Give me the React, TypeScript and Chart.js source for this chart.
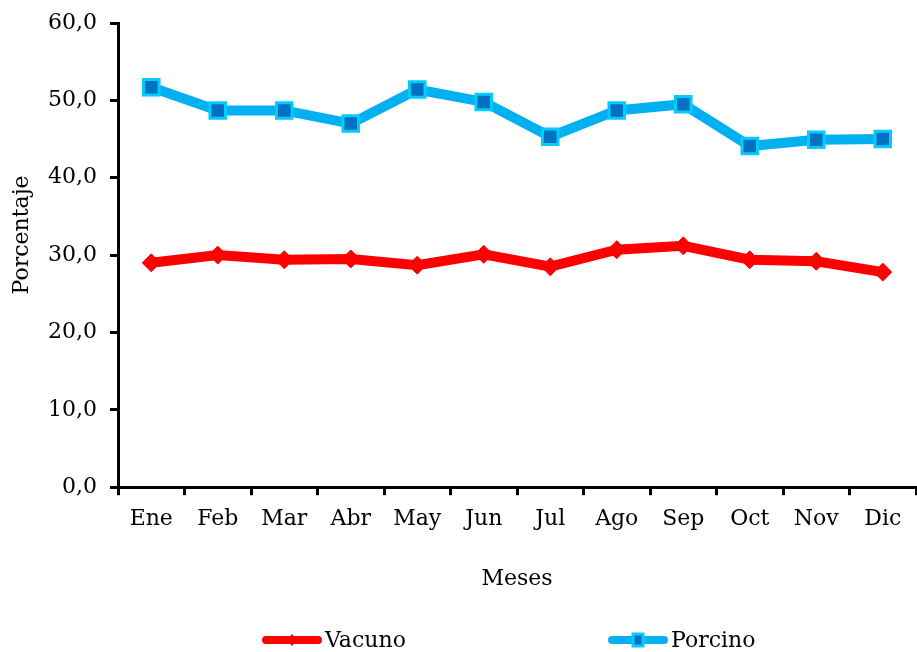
import React, { useEffect, useRef } from 'react';
import { Chart, registerables } from 'chart.js';

Chart.register(...registerables);

const MONTHS = ['Ene', 'Feb', 'Mar', 'Abr', 'May', 'Jun', 'Jul', 'Ago', 'Sep', 'Oct', 'Nov', 'Dic'];
const VACUNO = [29.0, 30.0, 29.4, 29.5, 28.7, 30.1, 28.5, 30.7, 31.2, 29.4, 29.2, 27.8];
const PORCINO = [51.7, 48.7, 48.7, 47.0, 51.4, 49.8, 45.3, 48.7, 49.5, 44.1, 44.9, 45.0];
const Y_TICK_LABELS = ['0,0', '10,0', '20,0', '30,0', '40,0', '50,0', '60,0'];
const SERIES_NAMES = ['Vacuno', 'Porcino'];
const X_TITLE = 'Meses';
const Y_TITLE = 'Porcentaje';

const FONT_FAMILY = '"DejaVu Serif", serif';
const FONT_SIZE = 22;
const LEGEND_X = [262, 608];
const LEGEND_Y = 640;

const yTitlePlugin = {
  id: 'yTitle',
  afterDraw(chart: any) {
    const ctx = chart.ctx;
    ctx.save();
    ctx.translate(22, 235);
    ctx.rotate(-Math.PI / 2);
    ctx.font = `${FONT_SIZE}px ${FONT_FAMILY}`;
    ctx.fillStyle = '#000';
    ctx.textAlign = 'center';
    ctx.textBaseline = 'middle';
    ctx.fillText(Y_TITLE, 0, 0);
    ctx.restore();
  },
};

const legendPlugin = {
  id: 'lineLegend',
  afterDraw(chart: any) {
    const ctx = chart.ctx;
    chart.data.datasets.forEach((ds: any, i: number) => {
      const x0 = LEGEND_X[i];
      const x1 = x0 + 60;
      const y = LEGEND_Y;
      const cx = (x0 + x1) / 2;
      ctx.save();
      ctx.strokeStyle = ds.borderColor;
      ctx.lineWidth = 8;
      ctx.lineCap = 'round';
      ctx.beginPath();
      ctx.moveTo(x0 + 4, y);
      ctx.lineTo(x1 - 4, y);
      ctx.stroke();
      if (ds.pointStyle === 'rectRot') {
        ctx.fillStyle = ds.pointBackgroundColor;
        ctx.beginPath();
        ctx.moveTo(cx - 5, y);
        ctx.lineTo(cx, y - 6);
        ctx.lineTo(cx + 5, y);
        ctx.lineTo(cx, y + 6);
        ctx.closePath();
        ctx.fill();
      } else {
        ctx.fillStyle = ds.pointBackgroundColor;
        ctx.strokeStyle = ds.pointBorderColor;
        ctx.lineWidth = 3;
        ctx.beginPath();
        ctx.rect(cx - 5, y - 6, 10, 12);
        ctx.fill();
        ctx.stroke();
      }
      ctx.font = `${FONT_SIZE}px ${FONT_FAMILY}`;
      ctx.fillStyle = '#000';
      ctx.textAlign = 'left';
      ctx.textBaseline = 'middle';
      ctx.fillText(ds.label, x1 + 3, y + 1);
      ctx.restore();
    });
  },
};

export default function App() {
  const ref = useRef<HTMLCanvasElement | null>(null);

  useEffect(() => {
    if (!ref.current) return;
    const chart = new Chart(ref.current, {
      type: 'line',
      data: {
        labels: MONTHS,
        datasets: [
          {
            label: SERIES_NAMES[0],
            data: VACUNO,
            borderColor: '#FF0000',
            backgroundColor: '#FF0000',
            borderWidth: 10,
            tension: 0,
            pointStyle: 'rectRot',
            pointRadius: 9,
            pointBackgroundColor: '#FF0000',
            pointBorderColor: '#FF0000',
            pointBorderWidth: 1,
          },
          {
            label: SERIES_NAMES[1],
            data: PORCINO,
            borderColor: '#00B0F0',
            backgroundColor: '#00B0F0',
            borderWidth: 10,
            tension: 0,
            pointStyle: 'rect',
            pointRadius: 11,
            pointBackgroundColor: '#0070C0',
            pointBorderColor: '#00CCFF',
            pointBorderWidth: 3,
          },
        ],
      },
      options: {
        responsive: false,
        animation: false,
        devicePixelRatio: 1,
        layout: { padding: { left: 0, right: 4, top: 23, bottom: 60 } },
        plugins: {
          legend: { display: false },
          tooltip: { enabled: false },
        },
        scales: {
          x: {
            type: 'category',
            offset: true,
            border: { display: true, color: '#000', width: 3 },
            grid: {
              display: true,
              offset: true,
              drawOnChartArea: false,
              drawTicks: true,
              tickLength: 8,
              color: '#000',
              lineWidth: 3,
            },
            ticks: {
              color: '#000',
              font: { family: FONT_FAMILY, size: FONT_SIZE },
              padding: 11,
              maxRotation: 0,
              autoSkip: false,
            },
            title: {
              display: true,
              text: X_TITLE,
              color: '#000',
              font: { family: FONT_FAMILY, size: FONT_SIZE },
              padding: { top: 22, bottom: 0 },
            },
          },
          y: {
            min: 0,
            max: 60,
            border: { display: true, color: '#000', width: 3 },
            grid: {
              display: true,
              drawOnChartArea: false,
              drawTicks: true,
              tickLength: 8,
              color: '#000',
              lineWidth: 3,
            },
            ticks: {
              stepSize: 10,
              color: '#000',
              font: { family: FONT_FAMILY, size: FONT_SIZE },
              padding: 13,
              callback: (_v: any, i: number) => Y_TICK_LABELS[i],
            },
            afterFit: (scale: any) => {
              scale.width = 118;
              scale.paddingTop = 0;
              scale.paddingBottom = 0;
            },
          },
        },
      },
      plugins: [yTitlePlugin, legendPlugin],
    });
    return () => chart.destroy();
  }, []);

  return (
    <div
      style={{
        position: 'fixed',
        left: 0,
        top: 0,
        width: 917,
        height: 652,
        overflow: 'hidden',
        background: '#fff',
      }}
    >
      <canvas ref={ref} width={930} height={652} style={{ display: 'block', width: 930, height: 652 }} />
    </div>
  );
}
